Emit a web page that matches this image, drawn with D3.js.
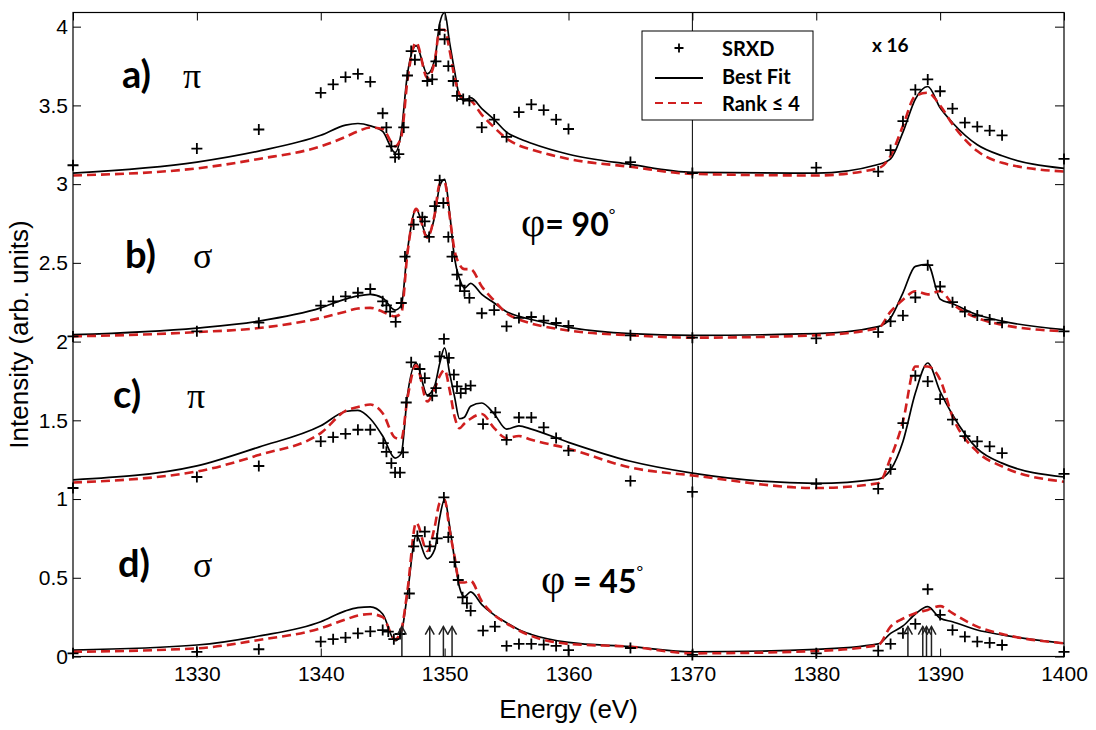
<!DOCTYPE html>
<html>
<head>
<meta charset="utf-8">
<script src="https://cdn.jsdelivr.net/npm/d3@7"></script>
<style>
  body { margin: 0; background: #fff; }
  svg { display: block; }
  .tick text { font-family: "Liberation Sans", Arial, sans-serif; font-size: 21px; fill: #000; }
</style>
</head>
<body>
<svg id="chart" width="1096" height="730"></svg>
<script>
// model energy grid shared by the fitted curves
const fitE = [1320, 1330, 1335, 1340, 1342, 1343, 1344, 1345, 1346, 1346.5, 1347, 1347.7, 1348.6, 1349.2, 1349.6, 1350, 1350.4, 1350.8, 1351.2, 1351.6, 1352.1, 1353, 1354, 1355, 1356, 1357, 1360, 1365, 1370, 1380, 1385, 1386, 1387, 1388, 1389, 1390, 1391, 1393, 1395, 1400];

// Best Fit (black) and Rank <= 4 (red) per panel
const bestA = [3.07, 3.14, 3.21, 3.31, 3.375, 3.385, 3.37, 3.335, 3.20, 3.33, 3.70, 3.88, 3.70, 3.79, 4.02, 4.09, 3.90, 3.72, 3.56, 3.53, 3.55, 3.48, 3.41, 3.33, 3.29, 3.26, 3.19, 3.125, 3.075, 3.07, 3.125, 3.16, 3.33, 3.54, 3.62, 3.485, 3.39, 3.25, 3.18, 3.10];
const rankA = [3.055, 3.10, 3.16, 3.24, 3.30, 3.335, 3.36, 3.35, 3.24, 3.30, 3.66, 3.90, 3.675, 3.78, 3.98, 3.98, 3.85, 3.68, 3.57, 3.54, 3.53, 3.44, 3.36, 3.29, 3.245, 3.22, 3.16, 3.11, 3.065, 3.055, 3.10, 3.18, 3.37, 3.56, 3.58, 3.50, 3.38, 3.21, 3.135, 3.08];
const bestB = [2.044, 2.086, 2.13, 2.214, 2.27, 2.29, 2.30, 2.277, 2.20, 2.23, 2.58, 2.84, 2.67, 2.796, 2.987, 3.03, 2.82, 2.53, 2.40, 2.34, 2.37, 2.30, 2.245, 2.19, 2.16, 2.14, 2.09, 2.05, 2.04, 2.05, 2.095, 2.15, 2.31, 2.478, 2.49, 2.27, 2.24, 2.17, 2.13, 2.076];
const rankB = [2.033, 2.06, 2.086, 2.15, 2.19, 2.21, 2.214, 2.19, 2.16, 2.18, 2.56, 2.843, 2.66, 2.81, 3.00, 3.01, 2.80, 2.58, 2.49, 2.46, 2.46, 2.35, 2.26, 2.18, 2.14, 2.115, 2.07, 2.04, 2.025, 2.04, 2.086, 2.19, 2.266, 2.32, 2.30, 2.32, 2.24, 2.15, 2.107, 2.065];
const bestC = [1.122, 1.211, 1.33, 1.465, 1.556, 1.563, 1.51, 1.40, 1.26, 1.29, 1.66, 1.864, 1.66, 1.72, 1.86, 1.96, 1.80, 1.65, 1.51, 1.52, 1.59, 1.61, 1.54, 1.444, 1.465, 1.444, 1.36, 1.24, 1.165, 1.10, 1.127, 1.186, 1.366, 1.673, 1.864, 1.683, 1.535, 1.32, 1.228, 1.14];
const rankC = [1.105, 1.175, 1.28, 1.419, 1.56, 1.585, 1.60, 1.545, 1.39, 1.38, 1.64, 1.85, 1.62, 1.70, 1.78, 1.82, 1.694, 1.524, 1.45, 1.48, 1.51, 1.54, 1.45, 1.387, 1.40, 1.376, 1.32, 1.20, 1.15, 1.07, 1.10, 1.26, 1.493, 1.842, 1.842, 1.758, 1.524, 1.30, 1.207, 1.11];
const bestD = [0.041, 0.073, 0.13, 0.221, 0.29, 0.31, 0.315, 0.27, 0.10, 0.15, 0.40, 0.77, 0.62, 0.68, 0.88, 1.00, 0.83, 0.62, 0.44, 0.38, 0.41, 0.33, 0.264, 0.215, 0.17, 0.14, 0.09, 0.063, 0.03, 0.045, 0.08, 0.147, 0.194, 0.27, 0.317, 0.243, 0.221, 0.168, 0.137, 0.084];
const rankD = [0.03, 0.052, 0.105, 0.179, 0.235, 0.26, 0.27, 0.25, 0.11, 0.17, 0.42, 0.85, 0.67, 0.825, 0.975, 0.995, 0.804, 0.635, 0.47, 0.47, 0.48, 0.35, 0.264, 0.21, 0.165, 0.13, 0.08, 0.062, 0.02, 0.035, 0.073, 0.19, 0.24, 0.275, 0.296, 0.32, 0.275, 0.19, 0.143, 0.084];

// SRXD measurements per panel
const srxdEA = [1320, 1330, 1335, 1340, 1341, 1342, 1343, 1344, 1345, 1345.3, 1345.7, 1346, 1346.3, 1346.7, 1347, 1347.3, 1347.6, 1348.6, 1349, 1349.3, 1349.6, 1350, 1350.3, 1350.7, 1351, 1351.5, 1352, 1353, 1354, 1355, 1356, 1357, 1358, 1359, 1360, 1365, 1370, 1380, 1385, 1386, 1387, 1388, 1389, 1390, 1391, 1392, 1393, 1394, 1395, 1400];
const srxdA = [3.12, 3.226, 3.347, 3.58, 3.633, 3.68, 3.70, 3.65, 3.45, 3.36, 3.24, 3.17, 3.19, 3.36, 3.69, 3.845, 3.79, 3.655, 3.665, 3.78, 3.98, 3.92, 3.75, 3.655, 3.56, 3.54, 3.53, 3.36, 3.41, 3.30, 3.457, 3.506, 3.47, 3.41, 3.35, 3.14, 3.07, 3.105, 3.08, 3.216, 3.40, 3.60, 3.665, 3.59, 3.48, 3.39, 3.365, 3.34, 3.31, 3.16];
const srxdEB = [1320, 1330, 1335, 1340, 1341, 1342, 1343, 1344, 1345, 1345.3, 1345.6, 1346.05, 1346.5, 1346.8, 1347.5, 1348.2, 1348.4, 1348.75, 1349.2, 1349.6, 1349.9, 1350.3, 1350.6, 1351, 1351.25, 1351.6, 1352, 1353, 1354, 1355, 1356, 1357, 1358, 1359, 1360, 1365, 1370, 1380, 1385, 1386, 1387, 1388, 1389, 1390, 1391, 1392, 1393, 1394, 1395, 1400];
const srxdB = [2.033, 2.065, 2.12, 2.228, 2.256, 2.287, 2.31, 2.334, 2.256, 2.23, 2.19, 2.125, 2.245, 2.54, 2.743, 2.79, 2.764, 2.665, 2.86, 3.025, 2.88, 2.665, 2.54, 2.425, 2.355, 2.32, 2.277, 2.18, 2.20, 2.097, 2.15, 2.156, 2.133, 2.118, 2.10, 2.04, 2.025, 2.02, 2.06, 2.128, 2.165, 2.28, 2.485, 2.35, 2.25, 2.19, 2.165, 2.14, 2.12, 2.065];
const srxdEC = [1320, 1330, 1335, 1340, 1341, 1342, 1343, 1344, 1345.05, 1345.3, 1345.7, 1346, 1346.4, 1346.65, 1346.9, 1347.3, 1348, 1348.4, 1349, 1349.3, 1349.6, 1349.95, 1350.35, 1350.75, 1351, 1351.3, 1351.7, 1352.1, 1353.1, 1354.1, 1355, 1356, 1357, 1358, 1359, 1360, 1365, 1370, 1380, 1385, 1386, 1387, 1388, 1389, 1390, 1391, 1392, 1393, 1394, 1395, 1400];
const srxdC = [1.07, 1.14, 1.21, 1.366, 1.393, 1.414, 1.44, 1.44, 1.355, 1.30, 1.228, 1.168, 1.168, 1.296, 1.613, 1.868, 1.826, 1.768, 1.656, 1.705, 1.906, 2.017, 1.896, 1.79, 1.715, 1.673, 1.70, 1.72, 1.476, 1.55, 1.376, 1.518, 1.518, 1.455, 1.387, 1.308, 1.115, 1.045, 1.097, 1.065, 1.19, 1.482, 1.783, 1.747, 1.635, 1.504, 1.40, 1.366, 1.334, 1.292, 1.16];
const srxdED = [1320, 1330, 1335, 1340, 1341, 1342, 1343, 1344, 1345, 1345.45, 1345.9, 1346.4, 1347.15, 1347.5, 1347.8, 1348.4, 1348.8, 1349.4, 1349.94, 1350.3, 1350.8, 1351.1, 1351.45, 1351.8, 1352.1, 1353.1, 1354.06, 1355, 1356, 1357, 1358, 1359, 1360, 1365, 1370, 1380, 1385, 1386, 1387, 1388, 1389, 1390, 1391, 1392, 1393, 1394, 1395, 1400];
const srxdD = [0.02, 0.03, 0.046, 0.094, 0.11, 0.12, 0.147, 0.159, 0.168, 0.158, 0.11, 0.143, 0.40, 0.70, 0.766, 0.793, 0.70, 0.75, 1.01, 0.758, 0.60, 0.486, 0.376, 0.338, 0.29, 0.164, 0.19, 0.067, 0.08, 0.08, 0.075, 0.067, 0.04, 0.054, 0.01, 0.02, 0.037, 0.08, 0.147, 0.207, 0.427, 0.264, 0.168, 0.126, 0.094, 0.087, 0.073, 0.03];

// resonance markers (arrows) along the energy axis
const arrowE = [1346.55, 1348.8, 1349.9, 1350.6, 1387.4, 1388.6, 1388.9, 1389.3];

const energyTicks = [1320, 1330, 1340, 1350, 1360, 1370, 1380, 1390, 1400];
const intensityTicks = [0, 0.5, 1, 1.5, 2, 2.5, 3, 3.5, 4];

const panelTags = ['a)', 'b)', 'c)', 'd)'];
const panelPols = ['π', 'σ', 'π', 'σ'];

const svg = d3.select('#chart');
const plotL = 73, plotR = 1064, plotT = 12.5, plotB = 656.5;

const x = d3.scaleLinear().domain([1320, 1400]).range([plotL, plotR]);
const y = d3.scaleLinear().domain([0, 4.09]).range([plotB, plotT]);

const boldFont = 'Lato, "Open Sans", sans-serif';
const sansFont = '"Liberation Sans", Arial, sans-serif';
const serifFont = '"Liberation Serif", "DejaVu Serif", serif';
const red = '#d01f1f';

const panels = [
  { best: bestA, rank: rankA, e: srxdEA, v: srxdA },
  { best: bestB, rank: rankB, e: srxdEB, v: srxdB },
  { best: bestC, rank: rankC, e: srxdEC, v: srxdC },
  { best: bestD, rank: rankD, e: srxdED, v: srxdD }
];

const plot = svg.append('g');

// vertical marker at 1370 eV
plot.append('line')
  .attr('x1', x(1370)).attr('x2', x(1370))
  .attr('y1', plotT).attr('y2', plotB)
  .attr('stroke', '#000').attr('stroke-width', 1);

const line = d3.line()
  .x((d, i) => x(fitE[i]))
  .y(d => y(d))
  .curve(d3.curveMonotoneX);

const crossPath = 'M-5.5,0H5.5M0,-5.5V5.5';

panels.forEach(p => {
  plot.append('path')
    .attr('d', line(p.best))
    .attr('fill', 'none')
    .attr('stroke', '#000')
    .attr('stroke-width', 1.7);

  plot.append('path')
    .attr('d', line(p.rank))
    .attr('fill', 'none')
    .attr('stroke', red)
    .attr('stroke-width', 2.6)
    .attr('stroke-dasharray', '9,5');

  plot.append('g')
    .selectAll('path')
    .data(p.e)
    .join('path')
    .attr('transform', (d, i) => `translate(${x(d)},${y(p.v[i])})`)
    .attr('d', crossPath)
    .attr('stroke', '#000')
    .attr('stroke-width', 1.8);
});

// arrows in panel d
const arrows = plot.append('g').attr('stroke', '#222').attr('stroke-width', 1.5).attr('fill', 'none');
arrowE.forEach(e => {
  const ax = x(e), y0 = y(0), y1 = y(0.19);
  arrows.append('line').attr('x1', ax).attr('x2', ax).attr('y1', y0).attr('y2', y1);
  arrows.append('path').attr('d', `M${ax - 4.5},${y1 + 8}L${ax},${y1}L${ax + 4.5},${y1 + 8}`);
});

// axes, ticks inward on all sides
svg.append('g')
  .attr('transform', `translate(0,${plotB})`)
  .call(d3.axisBottom(x).tickValues(energyTicks).tickSizeInner(-8).tickSizeOuter(0).tickPadding(10)
    .tickFormat(d => d === 1320 ? '' : d))
  .call(g => g.select('.domain').remove());

svg.append('g')
  .attr('transform', `translate(0,${plotT})`)
  .call(d3.axisTop(x).tickValues(energyTicks).tickSizeInner(-8).tickSizeOuter(0).tickFormat(''))
  .call(g => g.select('.domain').remove());

svg.append('g')
  .attr('transform', `translate(${plotL},0)`)
  .call(d3.axisLeft(y).tickValues(intensityTicks).tickSizeInner(-8).tickSizeOuter(0).tickPadding(5)
    .tickFormat(d3.format('~g')))
  .call(g => g.select('.domain').remove());

svg.append('g')
  .attr('transform', `translate(${plotR},0)`)
  .call(d3.axisRight(y).tickValues(intensityTicks).tickSizeInner(-9).tickSizeOuter(0).tickFormat(''))
  .call(g => g.select('.domain').remove());

svg.selectAll('.tick line').attr('stroke', '#000');

svg.append('rect')
  .attr('x', plotL).attr('y', plotT)
  .attr('width', plotR - plotL).attr('height', plotB - plotT)
  .attr('fill', 'none').attr('stroke', '#000').attr('stroke-width', 1.2);

// axis titles
svg.append('text')
  .attr('x', (plotL + plotR) / 2).attr('y', 718)
  .attr('text-anchor', 'middle')
  .style('font-family', sansFont).style('font-size', '26px')
  .text('Energy (eV)');

svg.append('text')
  .attr('transform', `translate(28,${(plotT + plotB) / 2}) rotate(-90)`)
  .attr('text-anchor', 'middle')
  .style('font-family', sansFont).style('font-size', '26px')
  .text('Intensity (arb. units)');

// panel labels
const labelPos = [
  { tx: 122, px: 183, by: 88 },
  { tx: 125, px: 193, by: 268 },
  { tx: 113, px: 187, by: 408 },
  { tx: 118, px: 193, by: 577 }
];
panelTags.forEach((tag, i) => {
  const pos = labelPos[i];
  svg.append('text')
    .attr('x', pos.tx).attr('y', pos.by)
    .style('font-family', boldFont).style('font-weight', 'bold').style('font-size', '38px')
    .text(tag);
  svg.append('text')
    .attr('x', pos.px).attr('y', pos.by)
    .style('font-family', serifFont).style('font-size', '36px')
    .text(panelPols[i]);
});

// angle annotations
function angleLabel(px, by, text) {
  const t = svg.append('text').attr('x', px).attr('y', by)
    .style('font-family', boldFont).style('font-weight', 'bold').style('font-size', '32px');
  t.append('tspan').style('font-family', serifFont).style('font-weight', 'normal').style('font-size', '42px').text('φ');
  t.append('tspan').text(text);
  t.append('tspan').attr('dy', -16).style('font-size', '16px').style('font-weight', 'normal').text('°');
}
angleLabel(521, 236, '= 90');
angleLabel(541, 593, ' = 45');

svg.append('text')
  .attr('x', 872).attr('y', 52)
  .style('font-family', boldFont).style('font-weight', 'bold').style('font-size', '19px')
  .text('x 16');

// legend
const legend = svg.append('g');
legend.append('rect')
  .attr('x', 642).attr('y', 31).attr('width', 171).attr('height', 89)
  .attr('fill', '#fff').attr('stroke', '#000').attr('stroke-width', 1);
legend.append('path')
  .attr('transform', 'translate(679,48)')
  .attr('d', 'M-4.5,0H4.5M0,-4.5V4.5')
  .attr('stroke', '#000').attr('stroke-width', 1.8);
legend.append('line')
  .attr('x1', 655).attr('x2', 703).attr('y1', 78).attr('y2', 78)
  .attr('stroke', '#000').attr('stroke-width', 1.8);
legend.append('line')
  .attr('x1', 655).attr('x2', 703).attr('y1', 103).attr('y2', 103)
  .attr('stroke', red).attr('stroke-width', 2.2).attr('stroke-dasharray', '8,5');
[['SRXD', 56], ['Best Fit', 84], ['Rank ≤ 4', 111]].forEach(([label, by]) => {
  legend.append('text')
    .attr('x', 722).attr('y', by)
    .style('font-family', boldFont).style('font-weight', 'bold').style('font-size', '20px')
    .text(label);
});
</script>
</body>
</html>
